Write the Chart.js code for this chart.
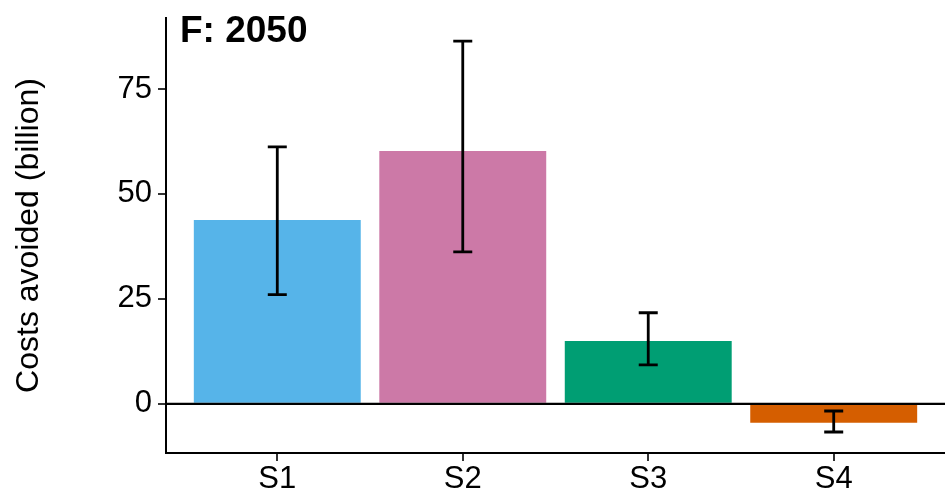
<!DOCTYPE html>
<html lang="en">
<head>
  <meta charset="UTF-8">
  <title>F: 2050 - Costs avoided</title>
  <script src="https://cdn.jsdelivr.net/npm/chart.js"></script>
  <style>
    html, body { margin: 0; padding: 0; background: #fff; }
    .chart-box { width: 945px; height: 497px; }
  </style>
</head>
<body>
  <div class="chart-box"><canvas id="costsChart"></canvas></div>
  <script>
    // data
    const categories = ["S1", "S2", "S3", "S4"];
    const costs = [43.8, 60.2, 15.0, -4.5];
    const errLow = [26.0, 36.2, 9.3, -6.7];
    const errHigh = [61.2, 86.4, 21.7, -1.7];
    const barColors = ["#56B4E9", "#CC79A7", "#009E73", "#D55E00"];
    const yTicks = [0, 25, 50, 75];
    const panelTitle = "F: 2050";

    const fontFamily = "'Liberation Sans', Arial, sans-serif";

    // error bars + zero line + panel label
    const extrasPlugin = {
      id: "extras",
      afterDatasetsDraw(chart) {
        const { ctx, chartArea, scales } = chart;
        const xs = scales.x, ys = scales.y;
        ctx.save();
        // zero line
        const y0 = ys.getPixelForValue(0);
        ctx.strokeStyle = "#000";
        ctx.lineWidth = 2.2;
        ctx.beginPath();
        ctx.moveTo(chartArea.left, y0);
        ctx.lineTo(chartArea.right, y0);
        ctx.stroke();
        // error bars
        ctx.lineWidth = 2.8;
        categories.forEach((c, i) => {
          const x = xs.getPixelForValue(i + 1);
          const yl = ys.getPixelForValue(errLow[i]);
          const yh = ys.getPixelForValue(errHigh[i]);
          const cap = 9.5;
          ctx.beginPath();
          ctx.moveTo(x, yl); ctx.lineTo(x, yh);
          ctx.moveTo(x - cap, yl); ctx.lineTo(x + cap, yl);
          ctx.moveTo(x - cap, yh); ctx.lineTo(x + cap, yh);
          ctx.stroke();
        });
        // panel label
        ctx.fillStyle = "#000";
        ctx.font = "bold 37px " + fontFamily;
        ctx.textAlign = "left";
        ctx.textBaseline = "alphabetic";
        ctx.fillText(panelTitle, 180, 42);
        ctx.restore();
      }
    };

    const ctx = document.getElementById("costsChart").getContext("2d");
    new Chart(ctx, {
      type: "bar",
      data: {
        datasets: [{
          data: categories.map((c, i) => ({ x: i + 1, y: costs[i] })),
          backgroundColor: barColors,
          borderWidth: 0,
          barPercentage: 0.9,
          categoryPercentage: 1.0
        }]
      },
      options: {
        responsive: true,
        maintainAspectRatio: false,
        animation: false,
        layout: { padding: { top: 18, right: 0, left: 0, bottom: 0 } },
        plugins: {
          legend: { display: false },
          tooltip: { enabled: false }
        },
        scales: {
          x: {
            type: "linear",
            min: 0.4,
            max: 4.6,
            offset: false,
            afterBuildTicks: (scale) => {
              scale.ticks = categories.map((c, i) => ({ value: i + 1 }));
            },
            afterFit: (scale) => {
              scale.height = 44;
              scale.paddingLeft = 0;
              scale.paddingRight = 0;
            },
            ticks: {
              callback: (v) => categories[Math.round(v) - 1],
              color: "#000",
              font: { family: fontFamily, size: 31 },
              padding: 0,
              maxRotation: 0,
              autoSkip: false
            },
            grid: {
              offset: false,
              drawOnChartArea: false,
              drawTicks: true,
              tickLength: 8,
              color: "#333",
              lineWidth: 2
            },
            border: { display: true, color: "#000", width: 2 }
          },
          y: {
            min: -11.7,
            max: 91.9,
            afterBuildTicks: (scale) => {
              scale.ticks = yTicks.map(v => ({ value: v }));
            },
            afterFit: (scale) => {
              scale.width = 166;
              scale.paddingTop = 0;
              scale.paddingBottom = 0;
            },
            ticks: {
              color: "#000",
              font: { family: fontFamily, size: 31 },
              padding: 6
            },
            grid: {
              drawOnChartArea: false,
              drawTicks: true,
              tickLength: 8,
              color: "#333",
              lineWidth: 2
            },
            border: { display: true, color: "#000", width: 2 },
            title: {
              display: true,
              text: "Costs avoided (billion)",
              color: "#000",
              font: { family: fontFamily, size: 32 },
              padding: { top: 10, bottom: 0 }
            }
          }
        }
      },
      plugins: [extrasPlugin]
    });
  </script>
</body>
</html>
